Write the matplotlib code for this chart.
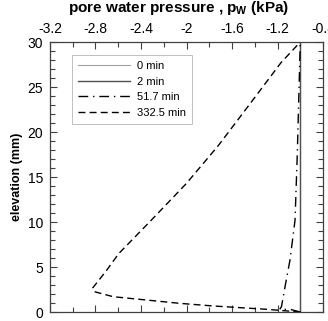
import numpy as np
import matplotlib.pyplot as plt
from matplotlib.ticker import MultipleLocator

plt.rcParams['font.family'] = ['Liberation Sans', 'DejaVu Sans']

# 0 min and 2 min: uniform profile
p_0 = [-1.0, -1.0]
z_0 = [0.0, 30.0]
p_2 = [-1.0, -1.0, -1.0]
z_2 = [0.0, 0.3, 30.0]

# 51.7 min
p_51 = [-1.0, -1.09, -1.18, -1.165, -1.134, -1.09, -1.046, -1.026, -1.0]
z_51 = [0.0, 0.3, 0.3, 0.6, 2.8, 5.8, 10.2, 17.6, 30.0]

# 332.5 min
p_332 = [-1.0, -1.295, -1.764, -2.057, -2.35, -2.644, -2.81, -2.825,
         -2.71, -2.595, -2.31, -2.0, -1.72, -1.45, -1.17, -1.0]
z_332 = [0.0, 0.3, 0.67, 0.96, 1.33, 1.7, 2.26, 2.67,
         4.5, 6.5, 10.2, 14.3, 18.5, 23.0, 27.7, 30.0]

fig = plt.figure(figsize=(3.28, 3.21), dpi=100)
ax = fig.add_axes([0.1524, 0.028, 0.8324, 0.841])

ax.plot(p_0, z_0, color='#a0a0a0', lw=0.8, label='0 min')
ax.plot(p_2, z_2, color='#505050', lw=1.0, label='2 min')
ax.plot(p_51, z_51, color='black', lw=1.0, dashes=(7, 3.5, 1, 3.5), label='51.7 min')
ax.plot(p_332, z_332, color='black', lw=1.0, dashes=(5, 3), label='332.5 min')

ax.set_xlim(-3.2, -0.8)
ax.set_ylim(0, 30)
ax.xaxis.set_major_locator(MultipleLocator(0.4))
ax.xaxis.set_minor_locator(MultipleLocator(0.2))
ax.yaxis.set_major_locator(MultipleLocator(5))
ax.yaxis.set_minor_locator(MultipleLocator(1))
ax.xaxis.set_major_formatter(lambda v, pos: f"{v:g}")

ax.tick_params(which='both', direction='in', top=True, bottom=True, left=True, right=True,
               labelbottom=False, labeltop=True, labelsize=10, color='#404040')
ax.tick_params(which='major', length=5, width=0.8, pad=5)
ax.tick_params(which='minor', length=3.5, width=0.8)
ax.tick_params(axis='x', which='major', pad=4.5)

fig.text(0.544, 0.963, 'pore water pressure , p$_\\mathregular{W}$ (kPa)', fontsize=11,
         fontweight='bold', ha='center', va='baseline')
ax.set_ylabel('elevation (mm)', fontsize=9, fontweight='bold', labelpad=3)

for s in ax.spines.values():
    s.set_color('#404040')
    s.set_linewidth(0.9)

leg = ax.legend(loc='upper left', bbox_to_anchor=(0.08, 0.952), borderaxespad=0, fontsize=8,
                frameon=True, fancybox=False, edgecolor='#b0b0b0', handlelength=4.7,
                handletextpad=0.6, borderpad=0.55, labelspacing=0.5)
leg.get_frame().set_linewidth(0.7)

fig.savefig('out.png', dpi=100)
